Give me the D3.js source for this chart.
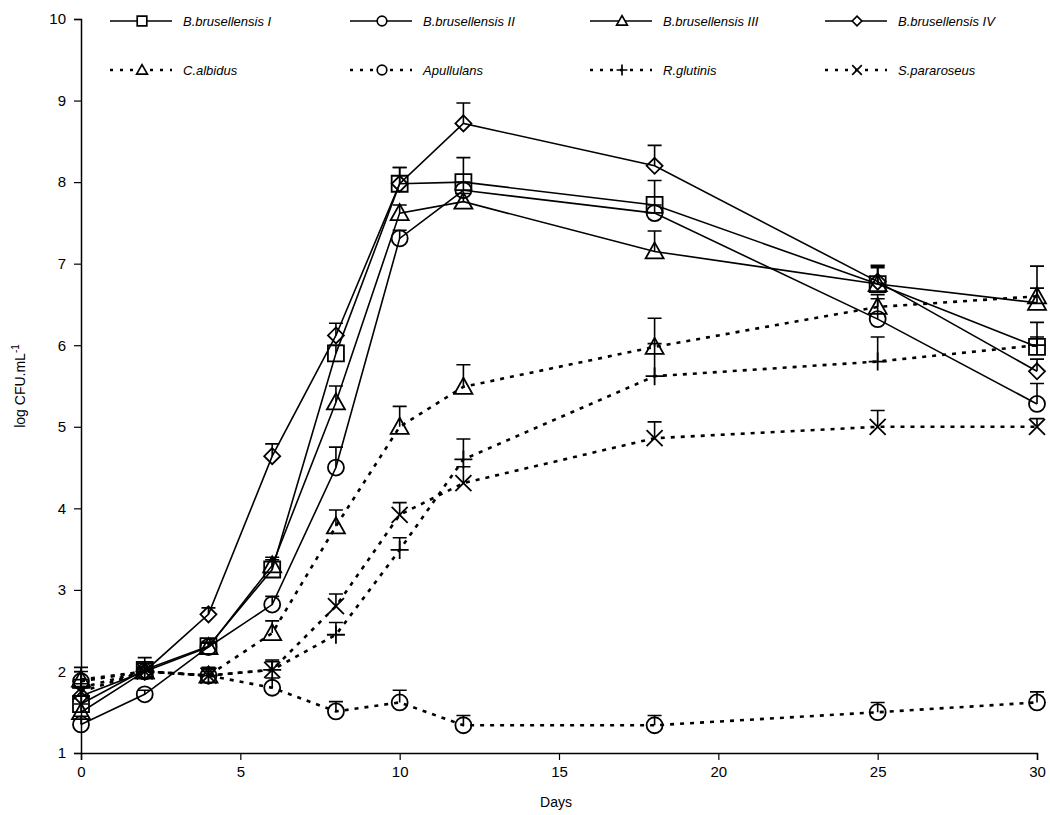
<!DOCTYPE html>
<html>
<head>
<meta charset="utf-8">
<script src="https://cdn.jsdelivr.net/npm/d3@7"></script>
<style>
  body { margin: 0; background: #fff; }
  svg { display: block; }
  .tick text { font-family: "Liberation Sans", Arial, sans-serif; font-size: 15px; fill: #000; }
  .legend text { font-family: "Liberation Sans", Arial, sans-serif; font-size: 13px; font-style: italic; }
</style>
</head>
<body>
<svg id="chart" width="1050" height="815"></svg>
<script>
// DATA
const days = [0, 2, 4, 6, 8, 10, 12, 18, 25, 30];
const yTicks = [1, 2, 3, 4, 5, 6, 7, 8, 9, 10];
const xTicks = [0, 5, 10, 15, 20, 25, 30];

const bBrus1 = [1.6, 2.02, 2.31, 3.25, 5.9, 7.98, 8.0, 7.72, 6.75, 5.98];
const bBrus2 = [1.35, 1.72, 2.3, 2.82, 4.5, 7.31, 7.9, 7.62, 6.32, 5.28];
const bBrus3 = [1.5, 2.0, 2.3, 3.3, 5.3, 7.62, 7.76, 7.15, 6.75, 6.52];
const bBrus4 = [1.7, 2.0, 2.7, 4.64, 6.12, 7.98, 8.72, 8.2, 6.78, 5.68];
const cAlbidus = [1.9, 2.0, 1.95, 2.47, 3.78, 5.0, 5.49, 5.98, 6.47, 6.6];
const aPullulans = [1.88, 2.0, 1.95, 1.8, 1.51, 1.62, 1.34, 1.34, 1.5, 1.62];
const rGlutinis = [1.8, 2.0, 1.95, 2.02, 2.45, 3.49, 4.6, 5.62, 5.8, 6.0];
const sPararoseus = [1.75, 2.0, 1.95, 2.02, 2.8, 3.92, 4.31, 4.86, 5.0, 5.0];

// upper error bars
const errB1 = [0.1, 0.15, 0.05, 0.12, 0.1, 0.2, 0.3, 0.3, 0.22, 0.3];
const errB2 = [0.1, 0.05, 0.05, 0.1, 0.25, 0.1, 0.1, 0.1, 0.3, 0.25];
const errB3 = [0.1, 0.05, 0.05, 0.1, 0.2, 0.1, 0.1, 0.25, 0.2, 0.45];
const errB4 = [0.1, 0.1, 0.08, 0.15, 0.15, 0.2, 0.25, 0.25, 0.2, 0.15];
const errCa = [0.15, 0.1, 0.1, 0.15, 0.2, 0.25, 0.27, 0.35, 0.1, 0.1];
const errAp = [0.12, 0.05, 0.05, 0.12, 0.12, 0.15, 0.12, 0.12, 0.12, 0.13];
const errRg = [0.1, 0.05, 0.08, 0.1, 0.15, 0.15, 0.25, 0.4, 0.3, 0.1];
const errSp = [0.1, 0.05, 0.08, 0.12, 0.15, 0.15, 0.2, 0.2, 0.2, 0.1];

const seriesNames = ["B.brusellensis I", "B.brusellensis II", "B.brusellensis III", "B.brusellensis IV",
                     "C.albidus", "Apullulans", "R.glutinis", "S.pararoseus"];
const seriesValues = [bBrus1, bBrus2, bBrus3, bBrus4, cAlbidus, aPullulans, rGlutinis, sPararoseus];
const seriesErrors = [errB1, errB2, errB3, errB4, errCa, errAp, errRg, errSp];
const seriesMarkers = ["square", "circle", "triangle", "diamond", "triangle", "circle", "plus", "x"];
const seriesDotted = [false, false, false, false, true, true, true, true];

const series = seriesNames.map((name, i) => ({
  name: name,
  marker: seriesMarkers[i],
  dotted: seriesDotted[i],
  points: days.map((d, j) => ({ day: d, v: seriesValues[i][j], e: seriesErrors[i][j] }))
}));

const svg = d3.select("#chart");
const x = d3.scaleLinear().domain([0, 30]).range([81, 1037]);
const y = d3.scaleLinear().domain([1, 10]).range([753, 19]);

// marker paths centred on 0,0
function markerPath(type) {
  switch (type) {
    case "square": return "M-8,-8H8V8H-8Z";
    case "circle": return "M8,0A8,8 0 1,1 -8,0A8,8 0 1,1 8,0Z";
    case "triangle": return "M0,-9L9,7H-9Z";
    case "diamond": return "M0,-8L8,0L0,8L-8,0Z";
    case "plus": return "M-9,0H9M0,-9V9";
    case "x": return "M-8,-8L8,8M8,-8L-8,8";
  }
}

// axes
const yAxis = svg.append("g")
  .attr("transform", `translate(${x(0)},0)`)
  .call(d3.axisLeft(y).tickValues(yTicks).tickSize(7).tickPadding(8).tickFormat(d3.format("d")));
const xAxis = svg.append("g")
  .attr("transform", `translate(0,${y(1)})`)
  .call(d3.axisBottom(x).tickValues(xTicks).tickSize(7).tickPadding(6).tickFormat(d3.format("d")));
[yAxis, xAxis].forEach(a => {
  a.select(".domain").attr("stroke", "#000").attr("stroke-width", 1.5);
  a.selectAll(".tick line").attr("stroke", "#000").attr("stroke-width", 1.2);
});

svg.append("text")
  .attr("x", 556).attr("y", 807)
  .attr("text-anchor", "middle")
  .style("font-family", "Liberation Sans, Arial, sans-serif")
  .style("font-size", "14px")
  .text("Days");

const yLab = svg.append("text")
  .attr("transform", "translate(25,386) rotate(-90)")
  .attr("text-anchor", "middle")
  .style("font-family", "Liberation Sans, Arial, sans-serif")
  .style("font-size", "14px");
yLab.append("tspan").text("log CFU.mL");
yLab.append("tspan").attr("dy", -6).style("font-size", "10px").text("-1");

// lines
const line = d3.line().x(d => x(d.day)).y(d => y(d.v));
const plot = svg.append("g");

plot.selectAll("path.series")
  .data(series)
  .join("path")
  .attr("class", "series")
  .attr("d", d => line(d.points))
  .attr("fill", "none")
  .attr("stroke", "#000")
  .attr("stroke-width", d => d.dotted ? 2.6 : 1.6)
  .attr("stroke-dasharray", d => d.dotted ? "4,6" : null);

// error bars + markers
series.forEach(s => {
  const g = plot.append("g");
  g.selectAll("path.err")
    .data(s.points)
    .join("path")
    .attr("class", "err")
    .attr("d", d => `M${x(d.day)},${y(d.v)}V${y(d.v + d.e)}M${x(d.day) - 7},${y(d.v + d.e)}H${x(d.day) + 7}`)
    .attr("stroke", "#000")
    .attr("stroke-width", 1.6)
    .attr("fill", "none");
  g.selectAll("path.mark")
    .data(s.points)
    .join("path")
    .attr("class", "mark")
    .attr("transform", d => `translate(${x(d.day)},${y(d.v)})`)
    .attr("d", markerPath(s.marker))
    .attr("fill", "none")
    .attr("stroke", "#000")
    .attr("stroke-width", 1.8);
});

// legend
const legX = [110, 350, 590, 825];
const legY = [21, 70];
const legend = svg.append("g").attr("class", "legend");
series.forEach((s, i) => {
  const lx = legX[i % 4];
  const ly = legY[Math.floor(i / 4)];
  const g = legend.append("g").attr("transform", `translate(${lx},${ly})`);
  g.append("line")
    .attr("x1", 0).attr("x2", 62).attr("y1", 0).attr("y2", 0)
    .attr("stroke", "#000")
    .attr("stroke-width", s.dotted ? 2.6 : 1.6)
    .attr("stroke-dasharray", s.dotted ? "3,7" : null);
  g.append("path")
    .attr("transform", "translate(32,0) scale(0.6)")
    .attr("d", markerPath(s.marker))
    .attr("fill", "#fff")
    .attr("stroke", "#000")
    .attr("stroke-width", 2.8);
  g.append("text")
    .attr("x", 73).attr("y", 5)
    .text(s.name);
});
</script>
</body>
</html>
